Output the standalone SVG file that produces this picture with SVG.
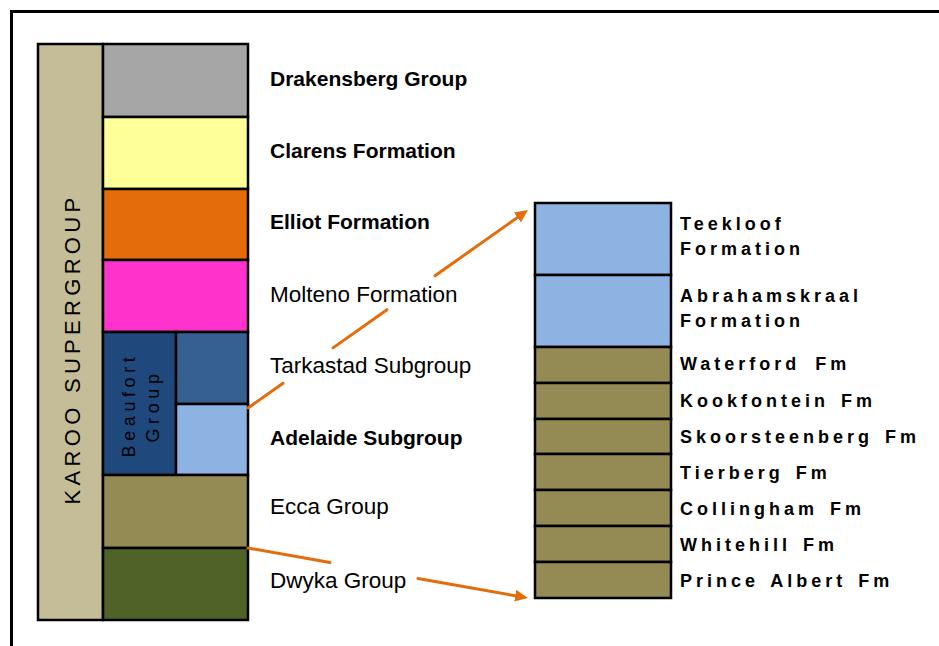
<svg xmlns="http://www.w3.org/2000/svg" width="939" height="646" viewBox="0 0 939 646">
<style>
  .box { stroke: #000; stroke-width: 2.5; }
  .lbl { font-family: "Liberation Sans", Arial, sans-serif; fill: #000; }
  .reg { font-size: 22.5px; }
  .bld { font-size: 21px; font-weight: bold; }
  .fm { font-size: 18px; font-weight: bold; letter-spacing: 4px; }
  .conn { stroke: #E46C0A; stroke-width: 3; fill: none; stroke-linecap: round; }
</style>
<defs>
  <marker id="ah" viewBox="0 -6 13 12" refX="0" refY="0" markerWidth="13" markerHeight="12" markerUnits="userSpaceOnUse" orient="auto">
    <path d="M0,-6 L13,0 L0,6 z" fill="#E46C0A"/>
  </marker>
</defs>
<rect x="0" y="0" width="939" height="646" fill="#fff"/>
<path d="M11.5,646 V11.5 H939" fill="none" stroke="#000" stroke-width="3"/>

<g id="karoo">
  <rect class="box" x="38" y="44" width="65" height="576" fill="#C4BD97"/>
  <text class="lbl" transform="translate(80,349) rotate(-90)" text-anchor="middle" font-size="22px" letter-spacing="4.3px">KAROO SUPERGROUP</text>
</g>
<g id="drakensberg">
  <rect class="box" x="103" y="44" width="145" height="73" fill="#A6A6A6"/>
  <text class="lbl bld" x="270" y="86">Drakensberg Group</text>
</g>
<g id="clarens">
  <rect class="box" x="103" y="117" width="145" height="72" fill="#FFFF99"/>
  <text class="lbl bld" x="270" y="158">Clarens Formation</text>
</g>
<g id="elliot">
  <rect class="box" x="103" y="189" width="145" height="71" fill="#E46C0A"/>
  <text class="lbl bld" x="270" y="229">Elliot Formation</text>
</g>
<g id="molteno">
  <rect class="box" x="103" y="260" width="145" height="72" fill="#FF33CC"/>
  <text class="lbl reg" x="270" y="302">Molteno Formation</text>
</g>
<g id="beaufort">
  <rect class="box" x="103" y="332" width="73" height="143" fill="#1F497D"/>
  <text class="lbl" transform="translate(135,405) rotate(-90)" text-anchor="middle" font-size="18px" letter-spacing="4.6px" fill="#111">Beaufort</text>
  <text class="lbl" transform="translate(159,406) rotate(-90)" text-anchor="middle" font-size="18px" letter-spacing="4.6px" fill="#111">Group</text>
</g>
<g id="tarkastad">
  <rect class="box" x="176" y="332" width="72" height="72" fill="#376092"/>
  <text class="lbl reg" x="270" y="373">Tarkastad Subgroup</text>
</g>
<g id="adelaide">
  <rect class="box" x="176" y="404" width="72" height="71" fill="#8DB3E2"/>
  <text class="lbl bld" x="270" y="445">Adelaide Subgroup</text>
</g>
<g id="ecca">
  <rect class="box" x="103" y="475" width="145" height="73" fill="#948A54"/>
  <text class="lbl reg" x="270" y="514">Ecca Group</text>
</g>
<g id="dwyka">
  <rect class="box" x="103" y="548" width="145" height="72" fill="#4F6228"/>
  <text class="lbl reg" x="270" y="588">Dwyka Group</text>
</g>

<g id="teekloof">
  <rect class="box" x="535" y="203" width="136" height="72" fill="#8DB3E2"/>
  <text class="lbl fm" x="680" y="230" letter-spacing="3.8px">Teekloof</text>
  <text class="lbl fm" x="680" y="255" letter-spacing="3.8px">Formation</text>
</g>
<g id="abrahamskraal">
  <rect class="box" x="535" y="275" width="136" height="72" fill="#8DB3E2"/>
  <text class="lbl fm" x="680" y="302" letter-spacing="4.9px">Abrahamskraal</text>
  <text class="lbl fm" x="680" y="327" letter-spacing="4.9px">Formation</text>
</g>
<g id="waterford">
  <rect class="box" x="535" y="347" width="136" height="36" fill="#948A54"/>
  <text class="lbl fm" x="680" y="370" letter-spacing="4.4px" word-spacing="6px">Waterford Fm</text>
</g>
<g id="kookfontein">
  <rect class="box" x="535" y="383" width="136" height="36" fill="#948A54"/>
  <text class="lbl fm" x="680" y="407" word-spacing="3px">Kookfontein Fm</text>
</g>
<g id="skoorsteenberg">
  <rect class="box" x="535" y="419" width="136" height="35" fill="#948A54"/>
  <text class="lbl fm" x="680" y="443" word-spacing="3px">Skoorsteenberg Fm</text>
</g>
<g id="tierberg">
  <rect class="box" x="535" y="454" width="136" height="36" fill="#948A54"/>
  <text class="lbl fm" x="680" y="479" word-spacing="3px">Tierberg Fm</text>
</g>
<g id="collingham">
  <rect class="box" x="535" y="490" width="136" height="36" fill="#948A54"/>
  <text class="lbl fm" x="680" y="515" word-spacing="3px">Collingham Fm</text>
</g>
<g id="whitehill">
  <rect class="box" x="535" y="526" width="136" height="36" fill="#948A54"/>
  <text class="lbl fm" x="680" y="551" word-spacing="3px">Whitehill Fm</text>
</g>
<g id="princealbert">
  <rect class="box" x="535" y="562" width="136" height="36" fill="#948A54"/>
  <text class="lbl fm" x="680" y="587" word-spacing="3px">Prince Albert Fm</text>
</g>

<g id="connectors">
  <line class="conn" x1="248" y1="408" x2="283" y2="383.3"/>
  <line class="conn" x1="333" y1="347.9" x2="387" y2="309.7"/>
  <line class="conn" x1="435" y1="275.8" x2="517.4" y2="217.5" marker-end="url(#ah)"/>
  <line class="conn" x1="248" y1="548" x2="330" y2="562.6"/>
  <line class="conn" x1="418" y1="578.4" x2="515.2" y2="595.7" marker-end="url(#ah)"/>
</g>
</svg>
